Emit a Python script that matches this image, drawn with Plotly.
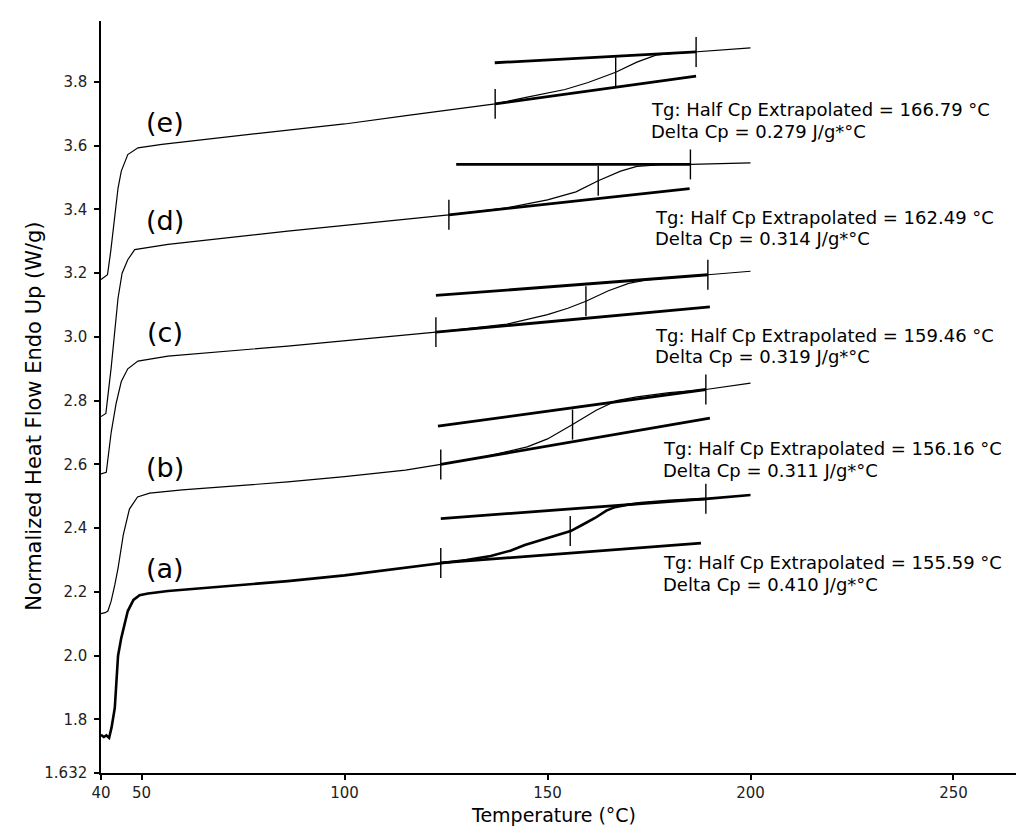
import plotly.graph_objects as go

# ---------------- data ----------------
# curve (a)
a_T = [40, 40.7, 41.3, 42.0, 42.6, 43.4, 44.2, 45.0, 46.6, 48.0, 49.5, 51.6, 56.5, 70, 86, 100,
       115.6, 123.7, 130, 136, 141, 144.4, 150, 155.7, 158.5, 161.7, 164.5, 166.6, 170, 173, 180, 189, 200]
a_y = [1.752, 1.745, 1.750, 1.742, 1.775, 1.836, 2.000, 2.056, 2.140, 2.175, 2.190, 2.195, 2.203, 2.218, 2.234, 2.252,
       2.278, 2.291, 2.300, 2.313, 2.330, 2.347, 2.370, 2.391, 2.410, 2.432, 2.455, 2.466, 2.474, 2.479, 2.486, 2.492, 2.504]
# curve (b)
b_T = [40, 41.0, 41.7, 42.5, 43.4, 44.2, 45.5, 47.0, 49.0, 52, 60, 86, 100, 115, 123.7,
       135, 145, 150, 156.16, 162, 167, 172, 180, 189, 200]
b_y = [2.132, 2.135, 2.140, 2.171, 2.222, 2.275, 2.380, 2.460, 2.498, 2.510, 2.520, 2.545, 2.562, 2.582, 2.600,
       2.625, 2.655, 2.680, 2.725, 2.770, 2.800, 2.812, 2.825, 2.835, 2.855]
# curve (c)
c_T = [40, 41.3, 42.5, 43.7, 45.0, 46.6, 49.1, 56.5, 86, 100, 122.5,
       140, 150, 155, 159.46, 165, 170, 175, 182, 189.5, 200]
c_y = [2.570, 2.575, 2.700, 2.790, 2.860, 2.900, 2.924, 2.940, 2.971, 2.988, 3.015,
       3.040, 3.070, 3.090, 3.112, 3.145, 3.168, 3.180, 3.188, 3.195, 3.206]
# curve (d)
d_T = [40, 41.2, 42.5, 43.4, 44.2, 45.2, 46.6, 48.3, 56.5, 86, 100, 125.7,
       140, 150, 157, 162.49, 168, 172, 178, 185.2, 200]
d_y = [2.750, 2.760, 2.903, 3.020, 3.122, 3.200, 3.242, 3.274, 3.290, 3.332, 3.350, 3.383,
       3.405, 3.430, 3.455, 3.490, 3.520, 3.535, 3.540, 3.541, 3.546]
# curve (e)
e_T = [40, 41.6, 42.4, 43.4, 44.2, 45.0, 46.6, 49.1, 55, 80, 100, 115.6, 130, 137.1,
       145, 154.3, 160, 166.79, 172, 176.7, 181, 186.6, 193, 200]
e_y = [3.180, 3.195, 3.269, 3.384, 3.467, 3.520, 3.572, 3.593, 3.604, 3.640, 3.668, 3.695, 3.718, 3.731,
       3.752, 3.776, 3.798, 3.830, 3.862, 3.884, 3.889, 3.894, 3.900, 3.907]

samples = ["(a)", "(b)", "(c)", "(d)", "(e)"]
tg_values = [155.59, 156.16, 159.46, 162.49, 166.79]
delta_cp = [0.410, 0.311, 0.319, 0.314, 0.279]
# curve value at Tg (half Cp point)
tg_y = [2.391, 2.725, 3.112, 3.490, 3.830]
# onset (start of lower tangent)
onset_T = [123.7, 123.7, 122.5, 125.7, 137.1]
onset_y = [2.291, 2.600, 3.015, 3.383, 3.731]
lower_end_T = [187.8, 190.0, 190.0, 185.0, 186.6]
lower_end_y = [2.353, 2.745, 3.094, 3.465, 3.818]
upper_start_T = [123.7, 123.0, 122.5, 127.5, 137.0]
upper_start_y = [2.430, 2.720, 3.130, 3.541, 3.860]
end_T = [189.0, 189.0, 189.5, 185.2, 186.6]
end_y = [2.492, 2.835, 3.195, 3.541, 3.894]
# plateau levels used to place the (a)..(e) labels
plateau_y = [2.200, 2.515, 2.938, 3.290, 3.598]

y_tickvals = [1.632, 1.8, 2.0, 2.2, 2.4, 2.6, 2.8, 3.0, 3.2, 3.4, 3.6, 3.8]
y_ticktext = ["1.632", "1.8", "2.0", "2.2", "2.4", "2.6", "2.8", "3.0", "3.2", "3.4", "3.6", "3.8"]
x_tickvals = [40, 50, 100, 150, 200, 250]

# ---------------- styling / layout constants ----------------
FONT = "DejaVu Sans"
TICK_HALF = 0.047
X_RANGE = [40, 269.1]
Y_RANGE = [1.632, 3.991]

fig = go.Figure()

curves = [(a_T, a_y, 2.6), (b_T, b_y, 1.2), (c_T, c_y, 1.2), (d_T, d_y, 1.2), (e_T, e_y, 1.2)]
for T, y, w in curves:
    fig.add_trace(go.Scatter(x=T, y=y, mode="lines", line=dict(color="black", width=w),
                             showlegend=False, hoverinfo="skip"))

for i in range(5):
    # tangents
    fig.add_trace(go.Scatter(x=[onset_T[i], lower_end_T[i]], y=[onset_y[i], lower_end_y[i]],
                             mode="lines", line=dict(color="black", width=2.8), showlegend=False))
    fig.add_trace(go.Scatter(x=[upper_start_T[i], end_T[i]], y=[upper_start_y[i], end_y[i]],
                             mode="lines", line=dict(color="black", width=2.8), showlegend=False))
    # vertical marks: onset, half Cp (Tg), end
    tx, ty = [], []
    for xx, yy in [(onset_T[i], onset_y[i]), (tg_values[i], tg_y[i]), (end_T[i], end_y[i])]:
        tx += [xx, xx, None]
        ty += [yy - TICK_HALF, yy + TICK_HALF, None]
    fig.add_trace(go.Scatter(x=tx, y=ty, mode="lines", line=dict(color="black", width=1.4),
                             showlegend=False))

annotations = []
# sample labels
for i, s in enumerate(samples):
    annotations.append(dict(x=55.8, y=plateau_y[i] + 0.075, xref="x", yref="y", text=s,
                            xanchor="center", yanchor="middle",
                            showarrow=False, font=dict(family=FONT, size=27, color="black")))
# result text
text_x = [177.9, 177.9, 176.0, 176.0, 175.0]
text_dy = [0.062, 0.095, 0.088, 0.089, 0.106]
for i in range(5):
    y1 = lower_end_y[i] - text_dy[i]
    annotations.append(dict(x=text_x[i], y=y1, xref="x", yref="y", xanchor="left", yanchor="middle",
                            text=f"Tg: Half Cp Extrapolated = {tg_values[i]:.2f} \u00b0C",
                            showarrow=False, font=dict(family=FONT, size=18, color="black")))
    annotations.append(dict(x=text_x[i], y=y1 - 0.068, xref="x", yref="y", xanchor="left", yanchor="middle",
                            text=f"Delta Cp = {delta_cp[i]:.3f} J/g*\u00b0C",
                            showarrow=False, font=dict(family=FONT, size=18, color="black")))
# axis titles
annotations.append(dict(x=0.487, y=-0.0735, xref="paper", yref="paper", text="Temperature (\u00b0C)",
                        xanchor="center", yanchor="bottom",
                        showarrow=False, font=dict(family=FONT, size=19, color="black")))
annotations.append(dict(x=-0.073, y=0.474, xref="paper", yref="paper", textangle=-90,
                        xanchor="center", yanchor="middle",
                        text="Normalized Heat Flow Endo Up (W/g)",
                        showarrow=False, font=dict(family=FONT, size=21, color="black")))

fig.update_layout(
    width=1024, height=827,
    margin=dict(l=93, r=1, t=13, b=62),
    paper_bgcolor="white", plot_bgcolor="white",
    showlegend=False,
    annotations=annotations,
    xaxis=dict(range=X_RANGE, tickvals=x_tickvals, ticks="outside", ticklen=5, tickwidth=1.5,
               tickcolor="black", showline=True, linecolor="black", linewidth=1.5,
               ticklabelstandoff=0,
               showgrid=False, zeroline=False, tickfont=dict(family=FONT, size=15, color="#222")),
    yaxis=dict(range=Y_RANGE, tickvals=y_tickvals, ticktext=y_ticktext, ticks="outside", ticklen=5,
               tickwidth=1.5, tickcolor="black", showline=True, linecolor="black", linewidth=1.5,
               ticklabelstandoff=4,
               showgrid=False, zeroline=False, tickfont=dict(family=FONT, size=15, color="#222")),
)

fig.write_html("out.html")
